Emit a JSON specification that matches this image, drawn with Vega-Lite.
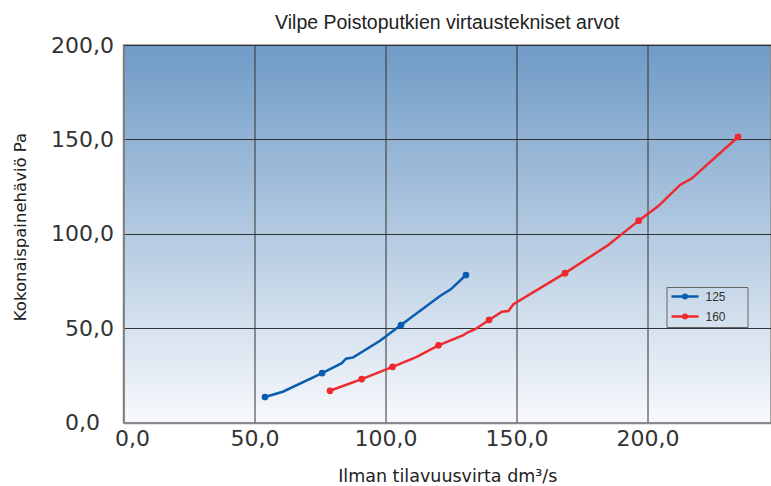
{
  "$schema": "https://vega.github.io/schema/vega-lite/v6.json",
  "width": 647.5,
  "height": 377.7,
  "autosize": {"type": "none"},
  "padding": {"left": 123.5, "top": 45, "right": 0, "bottom": 63.3},
  "background": "white",
  "title": {
    "text": "Vilpe Poistoputkien virtaustekniset arvot",
    "font": "Liberation Sans",
    "fontSize": 19.5,
    "fontWeight": "normal",
    "color": "#222",
    "anchor": "middle",
    "offset": 1
  },
  "config": {
    "view": {
      "fill": {
        "gradient": "linear",
        "x1": 0, "y1": 0, "x2": 0, "y2": 1,
        "stops": [
          {"offset": 0, "color": "#6f9bc6"},
          {"offset": 1, "color": "#f8f9fc"}
        ]
      },
      "stroke": "#8a8a8a",
      "strokeWidth": 1.5
    }
  },
  "datasets": {
    "curve": [
      {"q": 54.0, "p": 13.6, "size": "125"},
      {"q": 60.8, "p": 16.4, "size": "125"},
      {"q": 75.8, "p": 26.3, "size": "125"},
      {"q": 83.3, "p": 31.5, "size": "125"},
      {"q": 84.9, "p": 33.9, "size": "125"},
      {"q": 87.7, "p": 34.6, "size": "125"},
      {"q": 97.9, "p": 43.4, "size": "125"},
      {"q": 105.9, "p": 51.7, "size": "125"},
      {"q": 120.8, "p": 67.1, "size": "125"},
      {"q": 124.9, "p": 70.6, "size": "125"},
      {"q": 130.7, "p": 78.2, "size": "125"},
      {"q": 78.8, "p": 16.9, "size": "160"},
      {"q": 90.9, "p": 23.1, "size": "160"},
      {"q": 102.7, "p": 29.6, "size": "160"},
      {"q": 111.9, "p": 34.9, "size": "160"},
      {"q": 120.2, "p": 41.0, "size": "160"},
      {"q": 129.7, "p": 46.4, "size": "160"},
      {"q": 131.6, "p": 48.0, "size": "160"},
      {"q": 134.2, "p": 49.5, "size": "160"},
      {"q": 139.5, "p": 54.4, "size": "160"},
      {"q": 144.4, "p": 58.8, "size": "160"},
      {"q": 146.9, "p": 59.1, "size": "160"},
      {"q": 148.8, "p": 62.7, "size": "160"},
      {"q": 168.5, "p": 79.2, "size": "160"},
      {"q": 185.0, "p": 94.1, "size": "160"},
      {"q": 196.6, "p": 107.0, "size": "160"},
      {"q": 204.1, "p": 114.7, "size": "160"},
      {"q": 212.4, "p": 125.9, "size": "160"},
      {"q": 216.9, "p": 129.4, "size": "160"},
      {"q": 234.5, "p": 151.3, "size": "160"}
    ],
    "measured": [
      {"q": 54.0, "p": 13.6, "size": "125"},
      {"q": 75.8, "p": 26.3, "size": "125"},
      {"q": 105.9, "p": 51.7, "size": "125"},
      {"q": 130.7, "p": 78.2, "size": "125"},
      {"q": 78.8, "p": 16.9, "size": "160"},
      {"q": 90.9, "p": 23.1, "size": "160"},
      {"q": 102.7, "p": 29.6, "size": "160"},
      {"q": 120.2, "p": 41.0, "size": "160"},
      {"q": 139.5, "p": 54.4, "size": "160"},
      {"q": 168.5, "p": 79.2, "size": "160"},
      {"q": 196.6, "p": 107.0, "size": "160"},
      {"q": 234.5, "p": 151.3, "size": "160"}
    ]
  },
  "encoding": {
    "x": {
      "field": "q", "type": "quantitative",
      "scale": {"domain": [0, 247.1], "nice": false, "zero": false},
      "axis": {
        "title": "Ilman tilavuusvirta dm³/s",
        "titleFont": "DejaVu Sans",
        "titleFontSize": 17.5,
        "titleFontWeight": "normal",
        "titleColor": "#222",
        "titlePadding": 18,
        "values": [0, 50, 100, 150, 200],
        "labelExpr": "replace(format(datum.value, '.1f'), '.', ',')",
        "labelFont": "DejaVu Sans",
        "labelFontSize": 22,
        "labelColor": "#333",
        "labelPadding": 6,
        "labelOffset": {"condition": {"test": "datum.value == 0", "value": 8.5}, "value": 0},
        "labelFlush": false,
        "ticks": false,
        "domainColor": "#8a8a8a",
        "domainWidth": 2,
        "grid": true,
        "gridColor": "#333",
        "gridWidth": 1,
        "gridOpacity": 1
      }
    },
    "y": {
      "field": "p", "type": "quantitative",
      "scale": {"domain": [0, 200], "nice": false},
      "axis": {
        "title": "Kokonaispainehäviö Pa",
        "titleFont": "DejaVu Sans",
        "titleFontSize": 16.5,
        "titleFontWeight": "normal",
        "titleColor": "#222",
        "titlePadding": 22,
        "titleY": 181.5,
        "values": [0, 50, 100, 150, 200],
        "labelExpr": "replace(format(datum.value, '.1f'), '.', ',')",
        "labelFont": "DejaVu Sans",
        "labelFontSize": 22,
        "labelColor": "#333",
        "labelPadding": {"condition": {"test": "datum.value == 0", "value": 24}, "value": 10},
        "labelFlush": false,
        "ticks": false,
        "domainColor": "#8a8a8a",
        "domainWidth": 1.5,
        "grid": true,
        "gridColor": "#333",
        "gridWidth": 1,
        "gridOpacity": 1
      }
    },
    "color": {
      "field": "size", "type": "nominal",
      "scale": {"domain": ["125", "160"], "range": ["#0a5cae", "#ee2a2f"]},
      "legend": {
        "title": null,
        "orient": "none",
        "legendX": 543,
        "legendY": 242,
        "padding": 3,
        "symbolOffset": 9,
        "rowPadding": 5,
        "strokeColor": "#666",
        "fillColor": null,
        "symbolType": "M-2.7,0H2.7M-0.36,0A0.36,0.36,0,1,1,0.36,0A0.36,0.36,0,1,1,-0.36,0Z",
        "symbolSize": 100,
        "symbolStrokeWidth": 2.5,
        "labelFont": "Liberation Sans",
        "labelFontSize": 12,
        "labelColor": "#333",
        "labelOffset": 14,
        "labelExpr": "datum.label + '\u2800\u2800'",
        "encode": {
          "symbols": {"update": {"fill": {"scale": "color", "field": "value"}, "fillOpacity": {"value": 1}}}
        }
      }
    }
  },
  "layer": [
    {
      "data": {"name": "curve"},
      "mark": {"type": "line", "strokeWidth": 2.5, "interpolate": "linear"}
    },
    {
      "data": {"name": "measured"},
      "mark": {"type": "circle", "size": 45, "opacity": 1}
    }
  ]
}
